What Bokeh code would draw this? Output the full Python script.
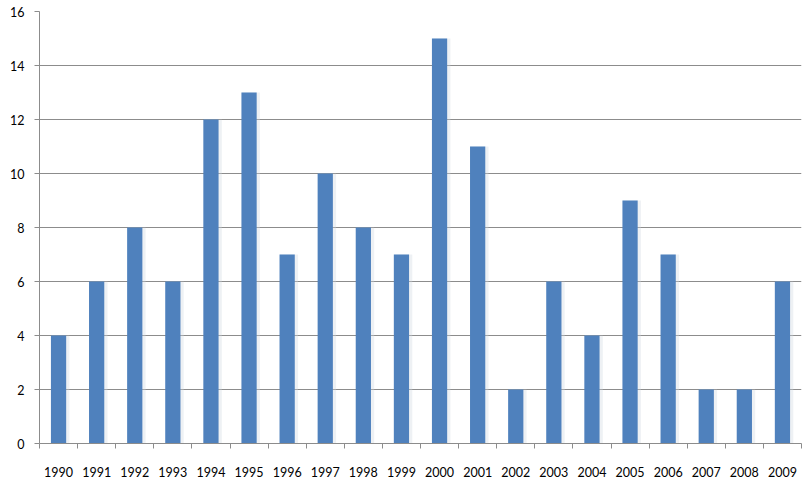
from bokeh.plotting import figure
from bokeh.models import Range1d, LinearAxis, FixedTicker, ColumnDataSource
from bokeh.embed import file_html
from bokeh.resources import INLINE

years = [str(y) for y in range(1990, 2010)]
counts = [4, 6, 8, 6, 12, 13, 7, 10, 8, 7, 15, 11, 2, 6, 4, 9, 7, 2, 2, 6]
y_ticks = [0, 2, 4, 6, 8, 10, 12, 14, 16]

FONT = "Lato"
GRID = "#8c8c8c"
BAR = "#4F81BD"

centers = [i + 0.5 for i in range(len(years))]
src = ColumnDataSource(dict(x=centers, year=years, count=counts,
                            xs=[c + 0.05 for c in centers]))

p = figure(width=802, height=487, x_range=Range1d(0, len(years)),
           y_range=Range1d(0, 16), output_backend="svg", toolbar_location=None,
           x_axis_location=None, min_border_left=39, min_border_right=1,
           min_border_top=11, min_border_bottom=44)
p.outline_line_color = None
p.background_fill_color = "white"
p.border_fill_color = "white"

# soft shadow
p.vbar(x="xs", top="count", width=0.47, source=src,
       fill_color="#cfd6df", fill_alpha=0.35, line_color=None)
p.vbar(x="x", top="count", width=0.4, source=src,
       fill_color=BAR, line_color=None)

p.xgrid.grid_line_color = None
p.ygrid.grid_line_color = GRID
p.ygrid.ticker = FixedTicker(ticks=y_ticks)

ya = p.yaxis[0]
ya.ticker = FixedTicker(ticks=y_ticks)
ya.axis_line_color = GRID
ya.major_tick_line_color = GRID
ya.major_tick_out = 5
ya.major_tick_in = 0
ya.minor_tick_line_color = None
ya.major_label_text_font = FONT
ya.major_label_text_font_size = "12.5px"
ya.major_label_text_color = "black"
ya.major_label_standoff = 10

xa = LinearAxis(ticker=FixedTicker(ticks=centers,
                                   minor_ticks=list(range(len(years) + 1))),
                major_label_overrides={c: y for c, y in zip(centers, years)})
xa.axis_line_color = GRID
xa.major_tick_line_color = None
xa.major_tick_out = 0
xa.major_tick_in = 0
xa.minor_tick_line_color = GRID
xa.minor_tick_out = 5
xa.minor_tick_in = 0
xa.major_label_text_font = FONT
xa.major_label_text_font_size = "12.5px"
xa.major_label_text_color = "black"
xa.major_label_standoff = 18
p.add_layout(xa, "below")

open("out.html", "w").write(file_html(p, INLINE))
